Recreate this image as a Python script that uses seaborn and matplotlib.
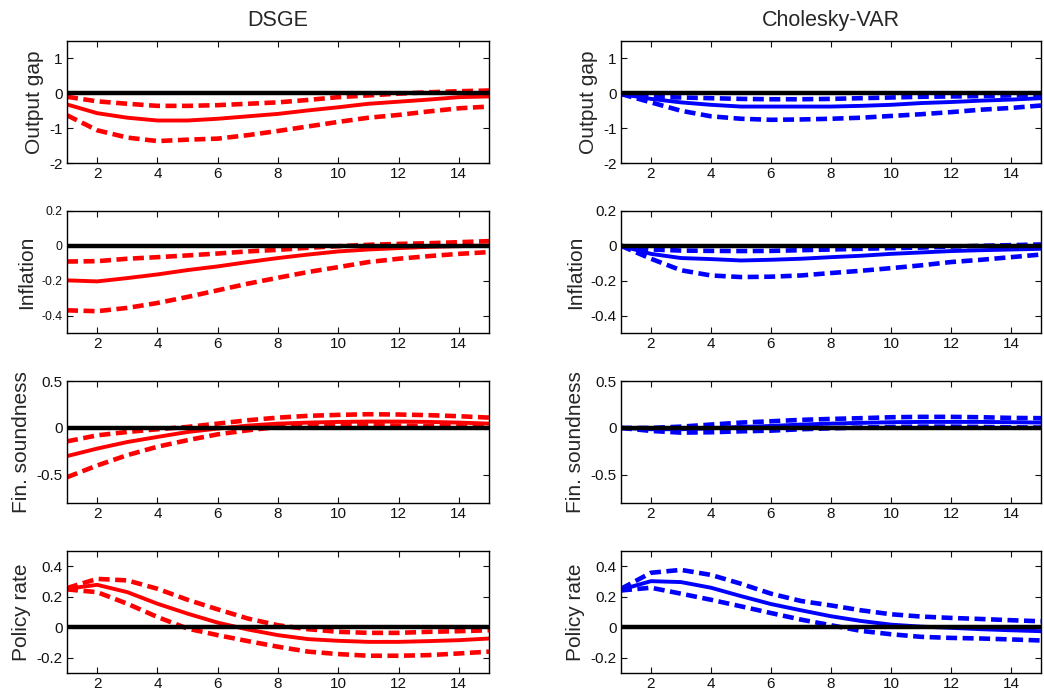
import matplotlib
matplotlib.use("Agg")
import matplotlib.pyplot as plt
import seaborn as sns
import pandas as pd

# horizon (quarters)
horizon = list(range(1, 16))

# DSGE responses: median, lower band, upper band
dsge_output_mid = [-0.32, -0.57, -0.70, -0.78, -0.78, -0.73, -0.66, -0.59, -0.49, -0.40, -0.30, -0.24, -0.18, -0.11, -0.09]
dsge_output_lo = [-0.63, -1.06, -1.27, -1.37, -1.33, -1.30, -1.20, -1.08, -0.95, -0.82, -0.70, -0.62, -0.52, -0.43, -0.38]
dsge_output_hi = [-0.10, -0.23, -0.30, -0.36, -0.36, -0.34, -0.30, -0.26, -0.19, -0.11, -0.06, -0.01, 0.03, 0.06, 0.08]

dsge_infl_mid = [-0.198, -0.204, -0.185, -0.164, -0.139, -0.118, -0.093, -0.070, -0.050, -0.032, -0.021, -0.013, -0.006, -0.002, 0.002]
dsge_infl_lo = [-0.370, -0.375, -0.356, -0.328, -0.293, -0.255, -0.217, -0.183, -0.150, -0.122, -0.093, -0.074, -0.059, -0.046, -0.036]
dsge_infl_hi = [-0.090, -0.088, -0.074, -0.065, -0.055, -0.044, -0.032, -0.023, -0.011, -0.002, 0.006, 0.011, 0.015, 0.021, 0.027]

dsge_fin_mid = [-0.30, -0.22, -0.15, -0.096, -0.043, -0.007, 0.025, 0.046, 0.057, 0.064, 0.068, 0.068, 0.064, 0.057, 0.046]
dsge_fin_lo = [-0.525, -0.40, -0.29, -0.20, -0.13, -0.068, -0.025, 0.011, 0.025, 0.029, 0.029, 0.025, 0.018, 0.018, 0.011]
dsge_fin_hi = [-0.143, -0.079, -0.043, -0.014, 0.011, 0.046, 0.082, 0.110, 0.129, 0.139, 0.146, 0.143, 0.136, 0.125, 0.110]

dsge_rate_mid = [0.252, 0.278, 0.230, 0.154, 0.089, 0.030, -0.015, -0.052, -0.078, -0.089, -0.096, -0.096, -0.091, -0.085, -0.074]
dsge_rate_lo = [0.248, 0.230, 0.154, 0.067, -0.009, -0.052, -0.091, -0.128, -0.160, -0.176, -0.187, -0.187, -0.183, -0.172, -0.160]
dsge_rate_hi = [0.257, 0.317, 0.307, 0.252, 0.180, 0.117, 0.057, 0.013, -0.013, -0.030, -0.037, -0.037, -0.030, -0.026, -0.020]

# Cholesky-VAR responses
var_output_mid = [-0.02, -0.16, -0.26, -0.33, -0.38, -0.38, -0.38, -0.38, -0.36, -0.33, -0.28, -0.25, -0.21, -0.18, -0.14]
var_output_lo = [-0.02, -0.26, -0.50, -0.66, -0.73, -0.76, -0.75, -0.73, -0.70, -0.65, -0.60, -0.54, -0.47, -0.42, -0.35]
var_output_hi = [-0.02, -0.10, -0.12, -0.14, -0.16, -0.17, -0.17, -0.16, -0.14, -0.12, -0.10, -0.09, -0.08, -0.06, -0.05]

var_infl_mid = [0.0, -0.046, -0.070, -0.076, -0.084, -0.080, -0.074, -0.065, -0.057, -0.046, -0.038, -0.030, -0.025, -0.021, -0.017]
var_infl_lo = [0.0, -0.074, -0.140, -0.170, -0.179, -0.177, -0.170, -0.156, -0.143, -0.128, -0.112, -0.093, -0.080, -0.065, -0.050]
var_infl_hi = [0.0, -0.021, -0.027, -0.029, -0.030, -0.029, -0.025, -0.021, -0.017, -0.013, -0.010, -0.004, 0.0, 0.004, 0.008]

var_fin_mid = [0.0, -0.014, -0.014, -0.004, 0.011, 0.021, 0.036, 0.046, 0.054, 0.061, 0.064, 0.064, 0.064, 0.061, 0.057]
var_fin_lo = [0.0, -0.032, -0.050, -0.046, -0.036, -0.029, -0.014, -0.004, 0.004, 0.011, 0.014, 0.014, 0.011, 0.007, 0.004]
var_fin_hi = [0.0, 0.0, 0.014, 0.036, 0.057, 0.071, 0.086, 0.096, 0.104, 0.114, 0.118, 0.118, 0.114, 0.107, 0.104]

var_rate_mid = [0.246, 0.302, 0.296, 0.259, 0.204, 0.152, 0.111, 0.072, 0.041, 0.017, 0.004, -0.004, -0.013, -0.020, -0.026]
var_rate_lo = [0.241, 0.259, 0.220, 0.180, 0.137, 0.093, 0.050, 0.013, -0.024, -0.046, -0.063, -0.070, -0.074, -0.080, -0.087]
var_rate_hi = [0.252, 0.357, 0.376, 0.343, 0.285, 0.220, 0.172, 0.143, 0.111, 0.085, 0.070, 0.061, 0.054, 0.046, 0.039]

row_labels = ["Output gap", "Inflation", "Fin. soundness", "Policy rate"]
col_titles = ["DSGE", "Cholesky-VAR"]
ylims = [(-2, 1.5), (-0.5, 0.2), (-0.8, 0.5), (-0.3, 0.5)]
yticks = [[-2, -1, 0, 1], [-0.4, -0.2, 0, 0.2], [-0.5, 0, 0.5], [-0.2, 0, 0.2, 0.4]]
ytick_labels = [["-2", "-1", "0", "1"], ["-0.4", "-0.2", "0", "0.2"],
                ["-0.5", "0", "0.5"], ["-0.2", "0", "0.2", "0.4"]]
xticks = [2, 4, 6, 8, 10, 12, 14]

dsge = [(dsge_output_mid, dsge_output_lo, dsge_output_hi),
        (dsge_infl_mid, dsge_infl_lo, dsge_infl_hi),
        (dsge_fin_mid, dsge_fin_lo, dsge_fin_hi),
        (dsge_rate_mid, dsge_rate_lo, dsge_rate_hi)]
var = [(var_output_mid, var_output_lo, var_output_hi),
       (var_infl_mid, var_infl_lo, var_infl_hi),
       (var_fin_mid, var_fin_lo, var_fin_hi),
       (var_rate_mid, var_rate_lo, var_rate_hi)]

sns.set_style("ticks")
plt.rcParams['font.family'] = ['Liberation Sans', 'DejaVu Sans']

fig = plt.figure(figsize=(10.44, 7.0), dpi=100)

col_left = [0.0642, 0.5948]
col_width = [0.4042, 0.4023]
row_bottom = [0.7671, 0.5243, 0.2814, 0.0386]
row_height = 0.1743

dash = (0, (2.4, 1.2))

for c, (model, color) in enumerate([(dsge, "#ff0000"), (var, "#0000ff")]):
    for r in range(4):
        ax = fig.add_axes([col_left[c], row_bottom[r], col_width[c], row_height])
        mid, lo, hi = model[r]
        df = pd.DataFrame({"h": horizon, "mid": mid, "lo": lo, "hi": hi})
        sns.lineplot(data=df, x="h", y="mid", ax=ax, color=color, lw=2.8)
        sns.lineplot(data=df, x="h", y="lo", ax=ax, color=color, lw=3.3, linestyle=dash)
        sns.lineplot(data=df, x="h", y="hi", ax=ax, color=color, lw=3.3, linestyle=dash)
        ax.axhline(0, color="black", lw=3.2, zorder=5)

        ax.set_xlim(1, 15)
        ax.set_ylim(*ylims[r])
        ax.set_xticks(xticks)
        ax.set_yticks(yticks[r])
        ytick_size = 8.8 if (c == 0 and r == 1) else 11
        ax.set_yticklabels(ytick_labels[r], fontsize=ytick_size)
        ax.set_xticklabels([str(t) for t in xticks], fontsize=11)
        ax.tick_params(direction="in", length=4, width=0.8, top=True, right=True,
                       pad=3, colors="#111111")
        for sp in ax.spines.values():
            sp.set_visible(True)
            sp.set_linewidth(1.0)
            sp.set_color("black")
        ax.set_xlabel("")
        ax.set_ylabel(row_labels[r], fontsize=15, labelpad=4)
        if r == 0:
            ax.set_title(col_titles[c], fontsize=15.5, pad=11)

fig.savefig("out.png", dpi=100)
